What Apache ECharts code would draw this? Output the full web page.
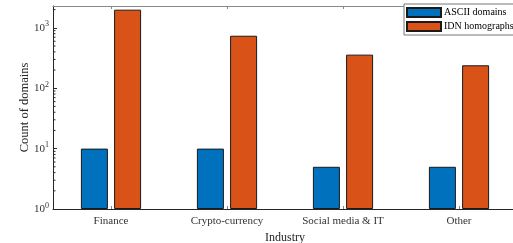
<!DOCTYPE html>
<html>
<head>
<meta charset="utf-8">
<script src="https://cdn.jsdelivr.net/npm/echarts@6/dist/echarts.min.js"></script>
<style>
html,body{margin:0;padding:0;background:#fff;}
#chart{width:513px;height:243px;}
</style>
</head>
<body>
<div id="chart"></div>
<script>
//行业分类
var industries = ['Finance', 'Crypto-currency', 'Social media & IT', 'Other'];
//ASCII 域名数量
var asciiCounts = [10, 10, 5, 5];
//IDN 同形异义域名数量
var idnCounts = [2000, 740, 360, 240];
//纵轴范围
var yMin = 1;
var yMax = 2300;

//对数轴次刻度 2..9 x 10^k
var minorTicks = [];
for (var k = 0; k < 4; k++) {
	for (var m = 2; m <= 9; m++) {
		var v = m * Math.pow(10, k);
		if (v < yMax) minorTicks.push([industries[0], v]);
	}
}

var serif = '"Liberation Serif", "DejaVu Serif", serif';
var axisColor = '#262626';

option = {
	backgroundColor: '#fff',
	animation: false,
	textStyle: {fontFamily: serif},
	grid: {
		left: 53,
		right: -4,
		top: 6,
		bottom: 34,
		containLabel: false,
		outerBoundsMode: 'none'
	},
	legend: {
		orient: 'vertical',
		left: 404,
		top: 4,
		padding: [3, 6, 3, 2],
		itemGap: 3,
		itemWidth: 34,
		itemHeight: 9,
		icon: 'rect',
		backgroundColor: '#fff',
		borderColor: '#777',
		borderWidth: 1,
		textStyle: {fontFamily: serif, fontSize: 10, color: '#000', padding: [0, 0, 0, -2]},
		data: ['ASCII domains', 'IDN homographs']
	},
	xAxis: [{
		type: 'category',
		data: industries,
		name: 'Industry',
		nameLocation: 'middle',
		nameGap: 22,
		nameTextStyle: {fontFamily: serif, fontSize: 12, color: '#262626'},
		axisLine: {lineStyle: {color: axisColor, width: 1}},
		axisTick: {show: true, inside: true, length: 3, alignWithLabel: true, lineStyle: {color: '#888'}},
		axisLabel: {fontFamily: serif, fontSize: 11, color: '#333', margin: 7},
		splitLine: {show: false}
	}, {
		type: 'category',
		data: industries,
		position: 'top',
		axisLine: {lineStyle: {color: '#888', width: 1}},
		axisTick: {show: true, inside: true, length: 3, alignWithLabel: true, lineStyle: {color: '#888'}},
		axisLabel: {show: false}
	}],
	yAxis: {
		type: 'log',
		logBase: 10,
		min: yMin,
		max: yMax,
		name: 'Count of domains',
		nameLocation: 'middle',
		nameGap: 22,
		nameMoveOverlap: false,
		nameRotate: 90,
		nameTextStyle: {fontFamily: serif, fontSize: 12.5, color: '#262626'},
		axisLine: {show: true, lineStyle: {color: axisColor, width: 1}},
		axisTick: {show: true, inside: true, length: 4, lineStyle: {color: axisColor}},
		splitLine: {show: false},
		axisLabel: {
			showMaxLabel: false,
			margin: 4,
			formatter: function(v) {
				return '{b|10}{s|' + Math.round(Math.log10(v)) + '}';
			},
			rich: {
				b: {fontFamily: serif, fontSize: 11, color: '#333'},
				s: {fontFamily: serif, fontSize: 8, color: '#333', padding: [0, 0, 7, 0]}
			}
		}
	},
	series: [{
		name: 'ASCII domains',
		type: 'bar',
		data: asciiCounts,
		barWidth: 27,
		barGap: '23%',
		itemStyle: {color: '#0072BD', borderColor: '#1a1a1a', borderWidth: 1}
	}, {
		name: 'IDN homographs',
		type: 'bar',
		data: idnCounts,
		barWidth: 27,
		barGap: '23%',
		itemStyle: {color: '#D95319', borderColor: '#1a1a1a', borderWidth: 1}
	}, {
		type: 'custom',
		silent: true,
		z: 5,
		data: minorTicks,
		renderItem: function(params, api) {
			var p = api.coord([api.value(0), api.value(1)]);
			var x0 = params.coordSys.x;
			return {
				type: 'line',
				shape: {x1: x0, y1: p[1], x2: x0 + 2.5, y2: p[1]},
				style: {stroke: axisColor, lineWidth: 1}
			};
		}
	}]
};
var myChart = echarts.init(document.getElementById('chart'));
myChart.setOption(option, true);
</script>
</body>
</html>
